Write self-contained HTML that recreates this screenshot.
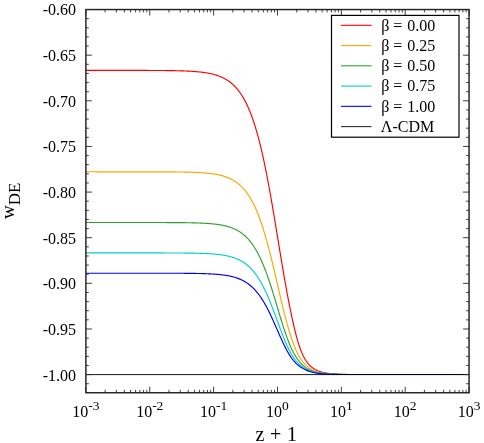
<!DOCTYPE html>
<html><head><meta charset="utf-8"><title>w_DE</title>
<style>
html,body{margin:0;padding:0;background:#fff;}
body{width:484px;height:443px;overflow:hidden;}
svg{display:block;will-change:transform;}
text{font-family:"Liberation Serif",serif;fill:#000;}
</style></head><body>
<svg width="484" height="443" viewBox="0 0 484 443">
<rect x="0" y="0" width="484" height="443" fill="#fff"/>

<clipPath id="c"><rect x="85.9" y="9.55" width="383.15" height="365.55"/></clipPath>
<g clip-path="url(#c)" fill="none" stroke-width="1.15" stroke-linejoin="round">
<polyline stroke="#ff0000" points="85.90,70.39 86.54,70.39 87.18,70.39 87.82,70.39 88.45,70.39 89.09,70.39 89.73,70.39 90.37,70.39 91.01,70.39 91.65,70.39 92.29,70.39 92.92,70.39 93.56,70.39 94.20,70.39 94.84,70.39 95.48,70.39 96.12,70.39 96.76,70.39 97.39,70.39 98.03,70.39 98.67,70.39 99.31,70.39 99.95,70.39 100.59,70.39 101.23,70.39 101.86,70.39 102.50,70.39 103.14,70.39 103.78,70.39 104.42,70.39 105.06,70.39 105.70,70.39 106.33,70.39 106.97,70.39 107.61,70.40 108.25,70.40 108.89,70.40 109.53,70.40 110.17,70.40 110.80,70.40 111.44,70.40 112.08,70.40 112.72,70.40 113.36,70.40 114.00,70.40 114.64,70.40 115.27,70.40 115.91,70.40 116.55,70.40 117.19,70.40 117.83,70.40 118.47,70.40 119.11,70.40 119.74,70.40 120.38,70.40 121.02,70.40 121.66,70.40 122.30,70.40 122.94,70.40 123.58,70.40 124.22,70.40 124.85,70.40 125.49,70.40 126.13,70.40 126.77,70.40 127.41,70.40 128.05,70.40 128.69,70.41 129.32,70.41 129.96,70.41 130.60,70.41 131.24,70.41 131.88,70.41 132.52,70.41 133.16,70.41 133.79,70.41 134.43,70.41 135.07,70.41 135.71,70.41 136.35,70.41 136.99,70.42 137.63,70.42 138.26,70.42 138.90,70.42 139.54,70.42 140.18,70.42 140.82,70.42 141.46,70.42 142.10,70.43 142.73,70.43 143.37,70.43 144.01,70.43 144.65,70.43 145.29,70.43 145.93,70.44 146.57,70.44 147.20,70.44 147.84,70.44 148.48,70.44 149.12,70.45 149.76,70.45 150.40,70.45 151.04,70.45 151.67,70.46 152.31,70.46 152.95,70.46 153.59,70.46 154.23,70.47 154.87,70.47 155.51,70.47 156.14,70.48 156.78,70.48 157.42,70.49 158.06,70.49 158.70,70.49 159.34,70.50 159.98,70.50 160.61,70.51 161.25,70.51 161.89,70.52 162.53,70.52 163.17,70.53 163.81,70.54 164.45,70.54 165.08,70.55 165.72,70.56 166.36,70.56 167.00,70.57 167.64,70.58 168.28,70.59 168.92,70.60 169.55,70.60 170.19,70.61 170.83,70.62 171.47,70.63 172.11,70.64 172.75,70.65 173.39,70.67 174.02,70.68 174.66,70.69 175.30,70.70 175.94,70.72 176.58,70.73 177.22,70.75 177.86,70.76 178.49,70.78 179.13,70.79 179.77,70.81 180.41,70.83 181.05,70.85 181.69,70.87 182.33,70.89 182.96,70.91 183.60,70.93 184.24,70.96 184.88,70.98 185.52,71.01 186.16,71.04 186.80,71.06 187.43,71.09 188.07,71.12 188.71,71.15 189.35,71.19 189.99,71.22 190.63,71.26 191.27,71.30 191.90,71.34 192.54,71.38 193.18,71.42 193.82,71.46 194.46,71.51 195.10,71.56 195.74,71.61 196.37,71.66 197.01,71.72 197.65,71.78 198.29,71.84 198.93,71.90 199.57,71.96 200.21,72.03 200.84,72.10 201.48,72.18 202.12,72.26 202.76,72.34 203.40,72.42 204.04,72.51 204.68,72.60 205.32,72.70 205.95,72.80 206.59,72.90 207.23,73.01 207.87,73.12 208.51,73.24 209.15,73.36 209.79,73.49 210.42,73.63 211.06,73.77 211.70,73.91 212.34,74.06 212.98,74.22 213.62,74.39 214.26,74.56 214.89,74.74 215.53,74.93 216.17,75.12 216.81,75.33 217.45,75.54 218.09,75.76 218.73,75.99 219.36,76.23 220.00,76.48 220.64,76.74 221.28,77.02 221.92,77.30 222.56,77.60 223.20,77.91 223.83,78.23 224.47,78.56 225.11,78.91 225.75,79.27 226.39,79.65 227.03,80.05 227.67,80.46 228.30,80.89 228.94,81.33 229.58,81.79 230.22,82.28 230.86,82.78 231.50,83.30 232.14,83.85 232.77,84.42 233.41,85.00 234.05,85.62 234.69,86.26 235.33,86.92 235.97,87.61 236.61,88.33 237.24,89.08 237.88,89.85 238.52,90.66 239.16,91.50 239.80,92.37 240.44,93.28 241.08,94.22 241.71,95.20 242.35,96.21 242.99,97.26 243.63,98.36 244.27,99.49 244.91,100.67 245.55,101.89 246.18,103.15 246.82,104.46 247.46,105.82 248.10,107.23 248.74,108.69 249.38,110.20 250.02,111.76 250.65,113.38 251.29,115.05 251.93,116.78 252.57,118.56 253.21,120.41 253.85,122.31 254.49,124.28 255.12,126.31 255.76,128.40 256.40,130.56 257.04,132.78 257.68,135.07 258.32,137.42 258.96,139.84 259.59,142.33 260.23,144.89 260.87,147.52 261.51,150.21 262.15,152.98 262.79,155.81 263.43,158.71 264.06,161.68 264.70,164.72 265.34,167.82 265.98,170.98 266.62,174.21 267.26,177.51 267.90,180.86 268.53,184.27 269.17,187.74 269.81,191.26 270.45,194.83 271.09,198.45 271.73,202.12 272.37,205.83 273.00,209.57 273.64,213.35 274.28,217.16 274.92,221.00 275.56,224.86 276.20,228.74 276.84,232.62 277.48,236.52 278.11,240.42 278.75,244.32 279.39,248.21 280.03,252.10 280.67,255.96 281.31,259.80 281.95,263.62 282.58,267.41 283.22,271.16 283.86,274.88 284.50,278.55 285.14,282.18 285.78,285.76 286.42,289.28 287.05,292.75 287.69,296.17 288.33,299.53 288.97,302.83 289.61,306.06 290.25,309.24 290.89,312.35 291.52,315.40 292.16,318.37 292.80,321.28 293.44,324.12 294.08,326.88 294.72,329.55 295.36,332.15 295.99,334.65 296.63,337.06 297.27,339.36 297.91,341.57 298.55,343.67 299.19,345.66 299.83,347.54 300.46,349.32 301.10,350.99 301.74,352.56 302.38,354.03 303.02,355.40 303.66,356.69 304.30,357.89 304.93,359.01 305.57,360.05 306.21,361.03 306.85,361.93 307.49,362.78 308.13,363.57 308.77,364.31 309.40,365.00 310.04,365.64 310.68,366.24 311.32,366.79 311.96,367.31 312.60,367.80 313.24,368.25 313.87,368.68 314.51,369.07 315.15,369.44 315.79,369.78 316.43,370.11 317.07,370.41 317.71,370.68 318.34,370.95 318.98,371.19 319.62,371.42 320.26,371.63 320.90,371.83 321.54,372.01 322.18,372.18 322.81,372.35 323.45,372.50 324.09,372.64 324.73,372.77 325.37,372.89 326.01,373.00 326.65,373.11 327.28,373.21 327.92,373.30 328.56,373.39 329.20,373.47 329.84,373.55 330.48,373.62 331.12,373.68 331.75,373.74 332.39,373.80 333.03,373.85 333.67,373.90 334.31,373.95 334.95,373.99 335.59,374.03 336.22,374.07 336.86,374.11 337.50,374.14 338.14,374.17 338.78,374.20 339.42,374.23 340.06,374.25 340.69,374.27 341.33,374.30 341.97,374.32 342.61,374.34 343.25,374.35 343.89,374.37 344.53,374.38 345.16,374.40 345.80,374.41 346.44,374.42 347.08,374.44 347.72,374.45 348.36,374.46 349.00,374.47 349.63,374.48 350.27,374.48 350.91,374.49 351.55,374.50 352.19,374.51 352.83,374.51 353.47,374.52 354.11,374.52 354.74,374.53 355.38,374.53 356.02,374.54 356.66,374.54 357.30,374.55 357.94,374.55 358.58,374.55 359.21,374.56 359.85,374.56 360.49,374.56 361.13,374.56 361.77,374.57 362.41,374.57 363.05,374.57 363.68,374.57 364.32,374.57 364.96,374.58 365.60,374.58 366.24,374.58 366.88,374.58 367.52,374.58 368.15,374.58 368.79,374.58 369.43,374.59 370.07,374.59 370.71,374.59 371.35,374.59 371.99,374.59 372.62,374.59 373.26,374.59 373.90,374.59 374.54,374.59 375.18,374.59 375.82,374.59 376.46,374.59 377.09,374.59 377.73,374.59 378.37,374.59 379.01,374.59 379.65,374.60 380.29,374.60 380.93,374.60 381.56,374.60 382.20,374.60 382.84,374.60 383.48,374.60 384.12,374.60 384.76,374.60 385.40,374.60 386.03,374.60 386.67,374.60 387.31,374.60 387.95,374.60 388.59,374.60 389.23,374.60 389.87,374.60 390.50,374.60 391.14,374.60 391.78,374.60 392.42,374.60 393.06,374.60 393.70,374.60 394.34,374.60 394.97,374.60 395.61,374.60 396.25,374.60 396.89,374.60 397.53,374.60 398.17,374.60 398.81,374.60 399.44,374.60 400.08,374.60 400.72,374.60 401.36,374.60 402.00,374.60 402.64,374.60 403.28,374.60 403.91,374.60 404.55,374.60 405.19,374.60 405.83,374.60 406.47,374.60 407.11,374.60 407.75,374.60 408.38,374.60 409.02,374.60 409.66,374.60 410.30,374.60 410.94,374.60 411.58,374.60 412.22,374.60 412.85,374.60 413.49,374.60 414.13,374.60 414.77,374.60 415.41,374.60 416.05,374.60 416.69,374.60 417.32,374.60 417.96,374.60 418.60,374.60 419.24,374.60 419.88,374.60 420.52,374.60 421.16,374.60 421.79,374.60 422.43,374.60 423.07,374.60 423.71,374.60 424.35,374.60 424.99,374.60 425.63,374.60 426.26,374.60 426.90,374.60 427.54,374.60 428.18,374.60 428.82,374.60 429.46,374.60 430.10,374.60 430.74,374.60 431.37,374.60 432.01,374.60 432.65,374.60 433.29,374.60 433.93,374.60 434.57,374.60 435.21,374.60 435.84,374.60 436.48,374.60 437.12,374.60 437.76,374.60 438.40,374.60 439.04,374.60 439.68,374.60 440.31,374.60 440.95,374.60 441.59,374.60 442.23,374.60 442.87,374.60 443.51,374.60 444.15,374.60 444.78,374.60 445.42,374.60 446.06,374.60 446.70,374.60 447.34,374.60 447.98,374.60 448.62,374.60 449.25,374.60 449.89,374.60 450.53,374.60 451.17,374.60 451.81,374.60 452.45,374.60 453.09,374.60 453.72,374.60 454.36,374.60 455.00,374.60 455.64,374.60 456.28,374.60 456.92,374.60 457.56,374.60 458.19,374.60 458.83,374.60 459.47,374.60 460.11,374.60 460.75,374.60 461.39,374.60 462.03,374.60 462.66,374.60 463.30,374.60 463.94,374.60 464.58,374.60 465.22,374.60 465.86,374.60 466.50,374.60 467.13,374.60 467.77,374.60 468.41,374.60 469.05,374.60"/>
<polyline stroke="#ffa500" points="85.90,171.79 86.54,171.79 87.18,171.79 87.82,171.79 88.45,171.79 89.09,171.79 89.73,171.79 90.37,171.79 91.01,171.79 91.65,171.79 92.29,171.79 92.92,171.79 93.56,171.79 94.20,171.79 94.84,171.79 95.48,171.79 96.12,171.80 96.76,171.80 97.39,171.80 98.03,171.80 98.67,171.80 99.31,171.80 99.95,171.80 100.59,171.80 101.23,171.80 101.86,171.80 102.50,171.80 103.14,171.80 103.78,171.80 104.42,171.80 105.06,171.80 105.70,171.80 106.33,171.80 106.97,171.80 107.61,171.80 108.25,171.80 108.89,171.80 109.53,171.80 110.17,171.80 110.80,171.80 111.44,171.80 112.08,171.80 112.72,171.80 113.36,171.80 114.00,171.80 114.64,171.80 115.27,171.80 115.91,171.80 116.55,171.80 117.19,171.80 117.83,171.80 118.47,171.80 119.11,171.80 119.74,171.80 120.38,171.80 121.02,171.80 121.66,171.80 122.30,171.80 122.94,171.80 123.58,171.80 124.22,171.80 124.85,171.80 125.49,171.80 126.13,171.80 126.77,171.80 127.41,171.80 128.05,171.80 128.69,171.80 129.32,171.80 129.96,171.80 130.60,171.80 131.24,171.80 131.88,171.80 132.52,171.80 133.16,171.80 133.79,171.80 134.43,171.80 135.07,171.80 135.71,171.80 136.35,171.80 136.99,171.80 137.63,171.81 138.26,171.81 138.90,171.81 139.54,171.81 140.18,171.81 140.82,171.81 141.46,171.81 142.10,171.81 142.73,171.81 143.37,171.81 144.01,171.81 144.65,171.81 145.29,171.81 145.93,171.81 146.57,171.81 147.20,171.82 147.84,171.82 148.48,171.82 149.12,171.82 149.76,171.82 150.40,171.82 151.04,171.82 151.67,171.82 152.31,171.82 152.95,171.83 153.59,171.83 154.23,171.83 154.87,171.83 155.51,171.83 156.14,171.83 156.78,171.84 157.42,171.84 158.06,171.84 158.70,171.84 159.34,171.84 159.98,171.85 160.61,171.85 161.25,171.85 161.89,171.85 162.53,171.86 163.17,171.86 163.81,171.86 164.45,171.86 165.08,171.87 165.72,171.87 166.36,171.87 167.00,171.88 167.64,171.88 168.28,171.89 168.92,171.89 169.55,171.89 170.19,171.90 170.83,171.90 171.47,171.91 172.11,171.91 172.75,171.92 173.39,171.92 174.02,171.93 174.66,171.94 175.30,171.94 175.94,171.95 176.58,171.96 177.22,171.96 177.86,171.97 178.49,171.98 179.13,171.99 179.77,172.00 180.41,172.01 181.05,172.02 181.69,172.03 182.33,172.04 182.96,172.05 183.60,172.06 184.24,172.07 184.88,172.09 185.52,172.10 186.16,172.11 186.80,172.13 187.43,172.14 188.07,172.16 188.71,172.18 189.35,172.19 189.99,172.21 190.63,172.23 191.27,172.25 191.90,172.27 192.54,172.29 193.18,172.32 193.82,172.34 194.46,172.37 195.10,172.39 195.74,172.42 196.37,172.45 197.01,172.48 197.65,172.51 198.29,172.54 198.93,172.58 199.57,172.61 200.21,172.65 200.84,172.69 201.48,172.73 202.12,172.77 202.76,172.82 203.40,172.86 204.04,172.91 204.68,172.96 205.32,173.02 205.95,173.07 206.59,173.13 207.23,173.19 207.87,173.26 208.51,173.32 209.15,173.39 209.79,173.46 210.42,173.54 211.06,173.62 211.70,173.70 212.34,173.79 212.98,173.88 213.62,173.98 214.26,174.08 214.89,174.18 215.53,174.29 216.17,174.40 216.81,174.52 217.45,174.64 218.09,174.77 218.73,174.91 219.36,175.05 220.00,175.20 220.64,175.35 221.28,175.51 221.92,175.68 222.56,175.86 223.20,176.04 223.83,176.23 224.47,176.43 225.11,176.64 225.75,176.86 226.39,177.09 227.03,177.33 227.67,177.58 228.30,177.84 228.94,178.11 229.58,178.39 230.22,178.68 230.86,178.99 231.50,179.31 232.14,179.65 232.77,180.00 233.41,180.37 234.05,180.75 234.69,181.14 235.33,181.56 235.97,181.99 236.61,182.44 237.24,182.91 237.88,183.40 238.52,183.91 239.16,184.44 239.80,184.99 240.44,185.57 241.08,186.17 241.71,186.80 242.35,187.45 242.99,188.12 243.63,188.83 244.27,189.56 244.91,190.32 245.55,191.12 246.18,191.94 246.82,192.80 247.46,193.68 248.10,194.61 248.74,195.57 249.38,196.56 250.02,197.60 250.65,198.67 251.29,199.78 251.93,200.93 252.57,202.12 253.21,203.36 253.85,204.63 254.49,205.96 255.12,207.33 255.76,208.74 256.40,210.20 257.04,211.71 257.68,213.27 258.32,214.87 258.96,216.53 259.59,218.24 260.23,219.99 260.87,221.80 261.51,223.66 262.15,225.57 262.79,227.54 263.43,229.55 264.06,231.61 264.70,233.73 265.34,235.89 265.98,238.11 266.62,240.37 267.26,242.68 267.90,245.03 268.53,247.43 269.17,249.88 269.81,252.36 270.45,254.88 271.09,257.44 271.73,260.04 272.37,262.66 273.00,265.32 273.64,268.00 274.28,270.70 274.92,273.42 275.56,276.16 276.20,278.91 276.84,281.67 277.48,284.43 278.11,287.20 278.75,289.96 279.39,292.71 280.03,295.45 280.67,298.17 281.31,300.88 281.95,303.56 282.58,306.21 283.22,308.83 283.86,311.41 284.50,313.95 285.14,316.45 285.78,318.90 286.42,321.30 287.05,323.65 287.69,325.94 288.33,328.18 288.97,330.35 289.61,332.46 290.25,334.51 290.89,336.50 291.52,338.42 292.16,340.27 292.80,342.05 293.44,343.77 294.08,345.43 294.72,347.02 295.36,348.54 295.99,350.00 296.63,351.39 297.27,352.72 297.91,353.99 298.55,355.20 299.19,356.35 299.83,357.44 300.46,358.48 301.10,359.46 301.74,360.39 302.38,361.27 303.02,362.10 303.66,362.88 304.30,363.62 304.93,364.31 305.57,364.97 306.21,365.58 306.85,366.16 307.49,366.71 308.13,367.22 308.77,367.70 309.40,368.15 310.04,368.57 310.68,368.96 311.32,369.33 311.96,369.68 312.60,370.00 313.24,370.30 313.87,370.59 314.51,370.85 315.15,371.10 315.79,371.33 316.43,371.55 317.07,371.75 317.71,371.94 318.34,372.12 318.98,372.28 319.62,372.44 320.26,372.58 320.90,372.71 321.54,372.84 322.18,372.96 322.81,373.07 323.45,373.17 324.09,373.26 324.73,373.35 325.37,373.44 326.01,373.51 326.65,373.59 327.28,373.65 327.92,373.72 328.56,373.78 329.20,373.83 329.84,373.88 330.48,373.93 331.12,373.97 331.75,374.02 332.39,374.06 333.03,374.09 333.67,374.13 334.31,374.16 334.95,374.19 335.59,374.21 336.22,374.24 336.86,374.26 337.50,374.29 338.14,374.31 338.78,374.33 339.42,374.35 340.06,374.36 340.69,374.38 341.33,374.39 341.97,374.41 342.61,374.42 343.25,374.43 343.89,374.44 344.53,374.45 345.16,374.46 345.80,374.47 346.44,374.48 347.08,374.49 347.72,374.50 348.36,374.50 349.00,374.51 349.63,374.52 350.27,374.52 350.91,374.53 351.55,374.53 352.19,374.54 352.83,374.54 353.47,374.54 354.11,374.55 354.74,374.55 355.38,374.55 356.02,374.56 356.66,374.56 357.30,374.56 357.94,374.57 358.58,374.57 359.21,374.57 359.85,374.57 360.49,374.57 361.13,374.58 361.77,374.58 362.41,374.58 363.05,374.58 363.68,374.58 364.32,374.58 364.96,374.58 365.60,374.58 366.24,374.59 366.88,374.59 367.52,374.59 368.15,374.59 368.79,374.59 369.43,374.59 370.07,374.59 370.71,374.59 371.35,374.59 371.99,374.59 372.62,374.59 373.26,374.59 373.90,374.59 374.54,374.59 375.18,374.59 375.82,374.60 376.46,374.60 377.09,374.60 377.73,374.60 378.37,374.60 379.01,374.60 379.65,374.60 380.29,374.60 380.93,374.60 381.56,374.60 382.20,374.60 382.84,374.60 383.48,374.60 384.12,374.60 384.76,374.60 385.40,374.60 386.03,374.60 386.67,374.60 387.31,374.60 387.95,374.60 388.59,374.60 389.23,374.60 389.87,374.60 390.50,374.60 391.14,374.60 391.78,374.60 392.42,374.60 393.06,374.60 393.70,374.60 394.34,374.60 394.97,374.60 395.61,374.60 396.25,374.60 396.89,374.60 397.53,374.60 398.17,374.60 398.81,374.60 399.44,374.60 400.08,374.60 400.72,374.60 401.36,374.60 402.00,374.60 402.64,374.60 403.28,374.60 403.91,374.60 404.55,374.60 405.19,374.60 405.83,374.60 406.47,374.60 407.11,374.60 407.75,374.60 408.38,374.60 409.02,374.60 409.66,374.60 410.30,374.60 410.94,374.60 411.58,374.60 412.22,374.60 412.85,374.60 413.49,374.60 414.13,374.60 414.77,374.60 415.41,374.60 416.05,374.60 416.69,374.60 417.32,374.60 417.96,374.60 418.60,374.60 419.24,374.60 419.88,374.60 420.52,374.60 421.16,374.60 421.79,374.60 422.43,374.60 423.07,374.60 423.71,374.60 424.35,374.60 424.99,374.60 425.63,374.60 426.26,374.60 426.90,374.60 427.54,374.60 428.18,374.60 428.82,374.60 429.46,374.60 430.10,374.60 430.74,374.60 431.37,374.60 432.01,374.60 432.65,374.60 433.29,374.60 433.93,374.60 434.57,374.60 435.21,374.60 435.84,374.60 436.48,374.60 437.12,374.60 437.76,374.60 438.40,374.60 439.04,374.60 439.68,374.60 440.31,374.60 440.95,374.60 441.59,374.60 442.23,374.60 442.87,374.60 443.51,374.60 444.15,374.60 444.78,374.60 445.42,374.60 446.06,374.60 446.70,374.60 447.34,374.60 447.98,374.60 448.62,374.60 449.25,374.60 449.89,374.60 450.53,374.60 451.17,374.60 451.81,374.60 452.45,374.60 453.09,374.60 453.72,374.60 454.36,374.60 455.00,374.60 455.64,374.60 456.28,374.60 456.92,374.60 457.56,374.60 458.19,374.60 458.83,374.60 459.47,374.60 460.11,374.60 460.75,374.60 461.39,374.60 462.03,374.60 462.66,374.60 463.30,374.60 463.94,374.60 464.58,374.60 465.22,374.60 465.86,374.60 466.50,374.60 467.13,374.60 467.77,374.60 468.41,374.60 469.05,374.60"/>
<polyline stroke="#33a033" points="85.90,222.50 86.54,222.50 87.18,222.50 87.82,222.50 88.45,222.50 89.09,222.50 89.73,222.50 90.37,222.50 91.01,222.50 91.65,222.50 92.29,222.50 92.92,222.50 93.56,222.50 94.20,222.50 94.84,222.50 95.48,222.50 96.12,222.50 96.76,222.50 97.39,222.50 98.03,222.50 98.67,222.50 99.31,222.50 99.95,222.50 100.59,222.50 101.23,222.50 101.86,222.50 102.50,222.50 103.14,222.50 103.78,222.50 104.42,222.50 105.06,222.50 105.70,222.50 106.33,222.50 106.97,222.50 107.61,222.50 108.25,222.50 108.89,222.50 109.53,222.50 110.17,222.50 110.80,222.50 111.44,222.50 112.08,222.50 112.72,222.50 113.36,222.50 114.00,222.50 114.64,222.50 115.27,222.50 115.91,222.50 116.55,222.50 117.19,222.50 117.83,222.50 118.47,222.50 119.11,222.50 119.74,222.50 120.38,222.50 121.02,222.50 121.66,222.50 122.30,222.50 122.94,222.50 123.58,222.50 124.22,222.50 124.85,222.50 125.49,222.50 126.13,222.50 126.77,222.50 127.41,222.50 128.05,222.50 128.69,222.50 129.32,222.50 129.96,222.50 130.60,222.50 131.24,222.50 131.88,222.50 132.52,222.50 133.16,222.50 133.79,222.50 134.43,222.50 135.07,222.50 135.71,222.50 136.35,222.50 136.99,222.50 137.63,222.50 138.26,222.50 138.90,222.50 139.54,222.50 140.18,222.50 140.82,222.50 141.46,222.50 142.10,222.50 142.73,222.50 143.37,222.51 144.01,222.51 144.65,222.51 145.29,222.51 145.93,222.51 146.57,222.51 147.20,222.51 147.84,222.51 148.48,222.51 149.12,222.51 149.76,222.51 150.40,222.51 151.04,222.51 151.67,222.51 152.31,222.51 152.95,222.51 153.59,222.52 154.23,222.52 154.87,222.52 155.51,222.52 156.14,222.52 156.78,222.52 157.42,222.52 158.06,222.52 158.70,222.52 159.34,222.53 159.98,222.53 160.61,222.53 161.25,222.53 161.89,222.53 162.53,222.53 163.17,222.54 163.81,222.54 164.45,222.54 165.08,222.54 165.72,222.54 166.36,222.55 167.00,222.55 167.64,222.55 168.28,222.55 168.92,222.56 169.55,222.56 170.19,222.56 170.83,222.56 171.47,222.57 172.11,222.57 172.75,222.57 173.39,222.58 174.02,222.58 174.66,222.59 175.30,222.59 175.94,222.59 176.58,222.60 177.22,222.60 177.86,222.61 178.49,222.61 179.13,222.62 179.77,222.63 180.41,222.63 181.05,222.64 181.69,222.65 182.33,222.65 182.96,222.66 183.60,222.67 184.24,222.68 184.88,222.68 185.52,222.69 186.16,222.70 186.80,222.71 187.43,222.72 188.07,222.73 188.71,222.74 189.35,222.76 189.99,222.77 190.63,222.78 191.27,222.79 191.90,222.81 192.54,222.82 193.18,222.84 193.82,222.85 194.46,222.87 195.10,222.89 195.74,222.91 196.37,222.93 197.01,222.95 197.65,222.97 198.29,222.99 198.93,223.01 199.57,223.04 200.21,223.06 200.84,223.09 201.48,223.12 202.12,223.15 202.76,223.18 203.40,223.21 204.04,223.24 204.68,223.28 205.32,223.31 205.95,223.35 206.59,223.39 207.23,223.43 207.87,223.48 208.51,223.52 209.15,223.57 209.79,223.62 210.42,223.67 211.06,223.73 211.70,223.79 212.34,223.85 212.98,223.91 213.62,223.97 214.26,224.04 214.89,224.12 215.53,224.19 216.17,224.27 216.81,224.35 217.45,224.44 218.09,224.53 218.73,224.63 219.36,224.73 220.00,224.83 220.64,224.94 221.28,225.05 221.92,225.17 222.56,225.29 223.20,225.42 223.83,225.56 224.47,225.70 225.11,225.85 225.75,226.00 226.39,226.17 227.03,226.34 227.67,226.51 228.30,226.70 228.94,226.89 229.58,227.10 230.22,227.31 230.86,227.53 231.50,227.76 232.14,228.00 232.77,228.25 233.41,228.52 234.05,228.79 234.69,229.08 235.33,229.38 235.97,229.69 236.61,230.02 237.24,230.36 237.88,230.71 238.52,231.09 239.16,231.47 239.80,231.88 240.44,232.30 241.08,232.74 241.71,233.20 242.35,233.67 242.99,234.17 243.63,234.69 244.27,235.23 244.91,235.79 245.55,236.38 246.18,236.98 246.82,237.62 247.46,238.28 248.10,238.96 248.74,239.67 249.38,240.42 250.02,241.18 250.65,241.98 251.29,242.81 251.93,243.67 252.57,244.57 253.21,245.49 253.85,246.45 254.49,247.45 255.12,248.47 255.76,249.54 256.40,250.64 257.04,251.78 257.68,252.96 258.32,254.18 258.96,255.43 259.59,256.73 260.23,258.06 260.87,259.44 261.51,260.85 262.15,262.31 262.79,263.80 263.43,265.34 264.06,266.92 264.70,268.54 265.34,270.19 265.98,271.89 266.62,273.63 267.26,275.40 267.90,277.21 268.53,279.06 269.17,280.94 269.81,282.85 270.45,284.79 271.09,286.77 271.73,288.77 272.37,290.79 273.00,292.84 273.64,294.91 274.28,297.00 274.92,299.10 275.56,301.22 276.20,303.34 276.84,305.47 277.48,307.61 278.11,309.74 278.75,311.87 279.39,314.00 280.03,316.11 280.67,318.21 281.31,320.29 281.95,322.35 282.58,324.38 283.22,326.39 283.86,328.36 284.50,330.30 285.14,332.21 285.78,334.07 286.42,335.89 287.05,337.66 287.69,339.39 288.33,341.06 288.97,342.69 289.61,344.25 290.25,345.77 290.89,347.23 291.52,348.63 292.16,349.97 292.80,351.26 293.44,352.49 294.08,353.67 294.72,354.79 295.36,355.86 295.99,356.88 296.63,357.85 297.27,358.78 297.91,359.66 298.55,360.50 299.19,361.30 299.83,362.06 300.46,362.78 301.10,363.47 301.74,364.13 302.38,364.75 303.02,365.34 303.66,365.90 304.30,366.43 304.93,366.93 305.57,367.41 306.21,367.86 306.85,368.28 307.49,368.68 308.13,369.05 308.77,369.41 309.40,369.74 310.04,370.05 310.68,370.35 311.32,370.62 311.96,370.88 312.60,371.13 313.24,371.35 313.87,371.57 314.51,371.77 315.15,371.95 315.79,372.13 316.43,372.29 317.07,372.44 317.71,372.59 318.34,372.72 318.98,372.84 319.62,372.96 320.26,373.07 320.90,373.17 321.54,373.27 322.18,373.35 322.81,373.44 323.45,373.52 324.09,373.59 324.73,373.65 325.37,373.72 326.01,373.78 326.65,373.83 327.28,373.88 327.92,373.93 328.56,373.98 329.20,374.02 329.84,374.06 330.48,374.09 331.12,374.13 331.75,374.16 332.39,374.19 333.03,374.21 333.67,374.24 334.31,374.26 334.95,374.29 335.59,374.31 336.22,374.33 336.86,374.35 337.50,374.36 338.14,374.38 338.78,374.39 339.42,374.41 340.06,374.42 340.69,374.43 341.33,374.44 341.97,374.45 342.61,374.46 343.25,374.47 343.89,374.48 344.53,374.49 345.16,374.50 345.80,374.50 346.44,374.51 347.08,374.52 347.72,374.52 348.36,374.53 349.00,374.53 349.63,374.54 350.27,374.54 350.91,374.54 351.55,374.55 352.19,374.55 352.83,374.55 353.47,374.56 354.11,374.56 354.74,374.56 355.38,374.57 356.02,374.57 356.66,374.57 357.30,374.57 357.94,374.57 358.58,374.58 359.21,374.58 359.85,374.58 360.49,374.58 361.13,374.58 361.77,374.58 362.41,374.58 363.05,374.59 363.68,374.59 364.32,374.59 364.96,374.59 365.60,374.59 366.24,374.59 366.88,374.59 367.52,374.59 368.15,374.59 368.79,374.59 369.43,374.59 370.07,374.59 370.71,374.59 371.35,374.59 371.99,374.59 372.62,374.59 373.26,374.60 373.90,374.60 374.54,374.60 375.18,374.60 375.82,374.60 376.46,374.60 377.09,374.60 377.73,374.60 378.37,374.60 379.01,374.60 379.65,374.60 380.29,374.60 380.93,374.60 381.56,374.60 382.20,374.60 382.84,374.60 383.48,374.60 384.12,374.60 384.76,374.60 385.40,374.60 386.03,374.60 386.67,374.60 387.31,374.60 387.95,374.60 388.59,374.60 389.23,374.60 389.87,374.60 390.50,374.60 391.14,374.60 391.78,374.60 392.42,374.60 393.06,374.60 393.70,374.60 394.34,374.60 394.97,374.60 395.61,374.60 396.25,374.60 396.89,374.60 397.53,374.60 398.17,374.60 398.81,374.60 399.44,374.60 400.08,374.60 400.72,374.60 401.36,374.60 402.00,374.60 402.64,374.60 403.28,374.60 403.91,374.60 404.55,374.60 405.19,374.60 405.83,374.60 406.47,374.60 407.11,374.60 407.75,374.60 408.38,374.60 409.02,374.60 409.66,374.60 410.30,374.60 410.94,374.60 411.58,374.60 412.22,374.60 412.85,374.60 413.49,374.60 414.13,374.60 414.77,374.60 415.41,374.60 416.05,374.60 416.69,374.60 417.32,374.60 417.96,374.60 418.60,374.60 419.24,374.60 419.88,374.60 420.52,374.60 421.16,374.60 421.79,374.60 422.43,374.60 423.07,374.60 423.71,374.60 424.35,374.60 424.99,374.60 425.63,374.60 426.26,374.60 426.90,374.60 427.54,374.60 428.18,374.60 428.82,374.60 429.46,374.60 430.10,374.60 430.74,374.60 431.37,374.60 432.01,374.60 432.65,374.60 433.29,374.60 433.93,374.60 434.57,374.60 435.21,374.60 435.84,374.60 436.48,374.60 437.12,374.60 437.76,374.60 438.40,374.60 439.04,374.60 439.68,374.60 440.31,374.60 440.95,374.60 441.59,374.60 442.23,374.60 442.87,374.60 443.51,374.60 444.15,374.60 444.78,374.60 445.42,374.60 446.06,374.60 446.70,374.60 447.34,374.60 447.98,374.60 448.62,374.60 449.25,374.60 449.89,374.60 450.53,374.60 451.17,374.60 451.81,374.60 452.45,374.60 453.09,374.60 453.72,374.60 454.36,374.60 455.00,374.60 455.64,374.60 456.28,374.60 456.92,374.60 457.56,374.60 458.19,374.60 458.83,374.60 459.47,374.60 460.11,374.60 460.75,374.60 461.39,374.60 462.03,374.60 462.66,374.60 463.30,374.60 463.94,374.60 464.58,374.60 465.22,374.60 465.86,374.60 466.50,374.60 467.13,374.60 467.77,374.60 468.41,374.60 469.05,374.60"/>
<polyline stroke="#00ced1" points="85.90,252.92 86.54,252.92 87.18,252.92 87.82,252.92 88.45,252.92 89.09,252.92 89.73,252.92 90.37,252.92 91.01,252.92 91.65,252.92 92.29,252.92 92.92,252.92 93.56,252.92 94.20,252.92 94.84,252.92 95.48,252.92 96.12,252.92 96.76,252.92 97.39,252.92 98.03,252.92 98.67,252.92 99.31,252.92 99.95,252.92 100.59,252.92 101.23,252.92 101.86,252.92 102.50,252.92 103.14,252.92 103.78,252.92 104.42,252.92 105.06,252.92 105.70,252.92 106.33,252.92 106.97,252.92 107.61,252.92 108.25,252.92 108.89,252.92 109.53,252.92 110.17,252.92 110.80,252.92 111.44,252.92 112.08,252.92 112.72,252.92 113.36,252.92 114.00,252.92 114.64,252.92 115.27,252.92 115.91,252.92 116.55,252.92 117.19,252.92 117.83,252.92 118.47,252.92 119.11,252.92 119.74,252.92 120.38,252.92 121.02,252.92 121.66,252.92 122.30,252.92 122.94,252.92 123.58,252.92 124.22,252.92 124.85,252.92 125.49,252.92 126.13,252.92 126.77,252.92 127.41,252.92 128.05,252.92 128.69,252.92 129.32,252.92 129.96,252.92 130.60,252.92 131.24,252.92 131.88,252.92 132.52,252.92 133.16,252.92 133.79,252.92 134.43,252.92 135.07,252.92 135.71,252.92 136.35,252.92 136.99,252.92 137.63,252.92 138.26,252.92 138.90,252.92 139.54,252.92 140.18,252.92 140.82,252.92 141.46,252.92 142.10,252.92 142.73,252.92 143.37,252.92 144.01,252.92 144.65,252.92 145.29,252.92 145.93,252.92 146.57,252.93 147.20,252.93 147.84,252.93 148.48,252.93 149.12,252.93 149.76,252.93 150.40,252.93 151.04,252.93 151.67,252.93 152.31,252.93 152.95,252.93 153.59,252.93 154.23,252.93 154.87,252.93 155.51,252.93 156.14,252.93 156.78,252.93 157.42,252.94 158.06,252.94 158.70,252.94 159.34,252.94 159.98,252.94 160.61,252.94 161.25,252.94 161.89,252.94 162.53,252.94 163.17,252.94 163.81,252.95 164.45,252.95 165.08,252.95 165.72,252.95 166.36,252.95 167.00,252.95 167.64,252.96 168.28,252.96 168.92,252.96 169.55,252.96 170.19,252.96 170.83,252.97 171.47,252.97 172.11,252.97 172.75,252.97 173.39,252.98 174.02,252.98 174.66,252.98 175.30,252.98 175.94,252.99 176.58,252.99 177.22,253.00 177.86,253.00 178.49,253.00 179.13,253.01 179.77,253.01 180.41,253.02 181.05,253.02 181.69,253.03 182.33,253.03 182.96,253.04 183.60,253.04 184.24,253.05 184.88,253.05 185.52,253.06 186.16,253.07 186.80,253.07 187.43,253.08 188.07,253.09 188.71,253.10 189.35,253.11 189.99,253.12 190.63,253.13 191.27,253.14 191.90,253.15 192.54,253.16 193.18,253.17 193.82,253.18 194.46,253.19 195.10,253.21 195.74,253.22 196.37,253.23 197.01,253.25 197.65,253.27 198.29,253.28 198.93,253.30 199.57,253.32 200.21,253.34 200.84,253.36 201.48,253.38 202.12,253.40 202.76,253.42 203.40,253.45 204.04,253.47 204.68,253.50 205.32,253.53 205.95,253.55 206.59,253.58 207.23,253.62 207.87,253.65 208.51,253.68 209.15,253.72 209.79,253.76 210.42,253.80 211.06,253.84 211.70,253.89 212.34,253.93 212.98,253.98 213.62,254.03 214.26,254.08 214.89,254.14 215.53,254.20 216.17,254.26 216.81,254.32 217.45,254.39 218.09,254.46 218.73,254.53 219.36,254.60 220.00,254.68 220.64,254.77 221.28,254.86 221.92,254.95 222.56,255.04 223.20,255.14 223.83,255.25 224.47,255.36 225.11,255.47 225.75,255.59 226.39,255.72 227.03,255.85 227.67,255.99 228.30,256.13 228.94,256.28 229.58,256.44 230.22,256.60 230.86,256.77 231.50,256.95 232.14,257.14 232.77,257.34 233.41,257.54 234.05,257.76 234.69,257.98 235.33,258.22 235.97,258.46 236.61,258.72 237.24,258.99 237.88,259.27 238.52,259.56 239.16,259.86 239.80,260.18 240.44,260.51 241.08,260.86 241.71,261.22 242.35,261.60 242.99,261.99 243.63,262.40 244.27,262.82 244.91,263.27 245.55,263.73 246.18,264.21 246.82,264.72 247.46,265.24 248.10,265.78 248.74,266.35 249.38,266.94 250.02,267.55 250.65,268.19 251.29,268.85 251.93,269.54 252.57,270.25 253.21,270.99 253.85,271.76 254.49,272.55 255.12,273.38 255.76,274.23 256.40,275.11 257.04,276.03 257.68,276.97 258.32,277.95 258.96,278.96 259.59,280.00 260.23,281.08 260.87,282.19 261.51,283.33 262.15,284.50 262.79,285.71 263.43,286.96 264.06,288.23 264.70,289.54 265.34,290.88 265.98,292.26 266.62,293.66 267.26,295.10 267.90,296.57 268.53,298.07 269.17,299.59 269.81,301.15 270.45,302.73 271.09,304.33 271.73,305.96 272.37,307.61 273.00,309.27 273.64,310.96 274.28,312.66 274.92,314.37 275.56,316.09 276.20,317.82 276.84,319.56 277.48,321.29 278.11,323.03 278.75,324.76 279.39,326.49 280.03,328.21 280.67,329.91 281.31,331.60 281.95,333.27 282.58,334.92 283.22,336.55 283.86,338.15 284.50,339.72 285.14,341.25 285.78,342.76 286.42,344.22 287.05,345.64 287.69,347.03 288.33,348.37 288.97,349.66 289.61,350.91 290.25,352.11 290.89,353.26 291.52,354.36 292.16,355.42 292.80,356.43 293.44,357.38 294.08,358.30 294.72,359.16 295.36,359.99 295.99,360.77 296.63,361.52 297.27,362.22 297.91,362.90 298.55,363.54 299.19,364.15 299.83,364.73 300.46,365.28 301.10,365.81 301.74,366.31 302.38,366.79 303.02,367.25 303.66,367.68 304.30,368.10 304.93,368.49 305.57,368.86 306.21,369.21 306.85,369.55 307.49,369.86 308.13,370.16 308.77,370.44 309.40,370.71 310.04,370.95 310.68,371.19 311.32,371.41 311.96,371.62 312.60,371.81 313.24,371.99 313.87,372.16 314.51,372.32 315.15,372.47 315.79,372.61 316.43,372.74 317.07,372.87 317.71,372.98 318.34,373.09 318.98,373.19 319.62,373.28 320.26,373.37 320.90,373.45 321.54,373.53 322.18,373.60 322.81,373.66 323.45,373.73 324.09,373.78 324.73,373.84 325.37,373.89 326.01,373.94 326.65,373.98 327.28,374.02 327.92,374.06 328.56,374.10 329.20,374.13 329.84,374.16 330.48,374.19 331.12,374.22 331.75,374.24 332.39,374.27 333.03,374.29 333.67,374.31 334.31,374.33 334.95,374.35 335.59,374.36 336.22,374.38 336.86,374.40 337.50,374.41 338.14,374.42 338.78,374.43 339.42,374.44 340.06,374.45 340.69,374.46 341.33,374.47 341.97,374.48 342.61,374.49 343.25,374.50 343.89,374.50 344.53,374.51 345.16,374.52 345.80,374.52 346.44,374.53 347.08,374.53 347.72,374.54 348.36,374.54 349.00,374.54 349.63,374.55 350.27,374.55 350.91,374.56 351.55,374.56 352.19,374.56 352.83,374.56 353.47,374.57 354.11,374.57 354.74,374.57 355.38,374.57 356.02,374.57 356.66,374.58 357.30,374.58 357.94,374.58 358.58,374.58 359.21,374.58 359.85,374.58 360.49,374.58 361.13,374.59 361.77,374.59 362.41,374.59 363.05,374.59 363.68,374.59 364.32,374.59 364.96,374.59 365.60,374.59 366.24,374.59 366.88,374.59 367.52,374.59 368.15,374.59 368.79,374.59 369.43,374.59 370.07,374.59 370.71,374.59 371.35,374.60 371.99,374.60 372.62,374.60 373.26,374.60 373.90,374.60 374.54,374.60 375.18,374.60 375.82,374.60 376.46,374.60 377.09,374.60 377.73,374.60 378.37,374.60 379.01,374.60 379.65,374.60 380.29,374.60 380.93,374.60 381.56,374.60 382.20,374.60 382.84,374.60 383.48,374.60 384.12,374.60 384.76,374.60 385.40,374.60 386.03,374.60 386.67,374.60 387.31,374.60 387.95,374.60 388.59,374.60 389.23,374.60 389.87,374.60 390.50,374.60 391.14,374.60 391.78,374.60 392.42,374.60 393.06,374.60 393.70,374.60 394.34,374.60 394.97,374.60 395.61,374.60 396.25,374.60 396.89,374.60 397.53,374.60 398.17,374.60 398.81,374.60 399.44,374.60 400.08,374.60 400.72,374.60 401.36,374.60 402.00,374.60 402.64,374.60 403.28,374.60 403.91,374.60 404.55,374.60 405.19,374.60 405.83,374.60 406.47,374.60 407.11,374.60 407.75,374.60 408.38,374.60 409.02,374.60 409.66,374.60 410.30,374.60 410.94,374.60 411.58,374.60 412.22,374.60 412.85,374.60 413.49,374.60 414.13,374.60 414.77,374.60 415.41,374.60 416.05,374.60 416.69,374.60 417.32,374.60 417.96,374.60 418.60,374.60 419.24,374.60 419.88,374.60 420.52,374.60 421.16,374.60 421.79,374.60 422.43,374.60 423.07,374.60 423.71,374.60 424.35,374.60 424.99,374.60 425.63,374.60 426.26,374.60 426.90,374.60 427.54,374.60 428.18,374.60 428.82,374.60 429.46,374.60 430.10,374.60 430.74,374.60 431.37,374.60 432.01,374.60 432.65,374.60 433.29,374.60 433.93,374.60 434.57,374.60 435.21,374.60 435.84,374.60 436.48,374.60 437.12,374.60 437.76,374.60 438.40,374.60 439.04,374.60 439.68,374.60 440.31,374.60 440.95,374.60 441.59,374.60 442.23,374.60 442.87,374.60 443.51,374.60 444.15,374.60 444.78,374.60 445.42,374.60 446.06,374.60 446.70,374.60 447.34,374.60 447.98,374.60 448.62,374.60 449.25,374.60 449.89,374.60 450.53,374.60 451.17,374.60 451.81,374.60 452.45,374.60 453.09,374.60 453.72,374.60 454.36,374.60 455.00,374.60 455.64,374.60 456.28,374.60 456.92,374.60 457.56,374.60 458.19,374.60 458.83,374.60 459.47,374.60 460.11,374.60 460.75,374.60 461.39,374.60 462.03,374.60 462.66,374.60 463.30,374.60 463.94,374.60 464.58,374.60 465.22,374.60 465.86,374.60 466.50,374.60 467.13,374.60 467.77,374.60 468.41,374.60 469.05,374.60"/>
<polyline stroke="#0000ff" points="85.90,273.20 86.54,273.20 87.18,273.20 87.82,273.20 88.45,273.20 89.09,273.20 89.73,273.20 90.37,273.20 91.01,273.20 91.65,273.20 92.29,273.20 92.92,273.20 93.56,273.20 94.20,273.20 94.84,273.20 95.48,273.20 96.12,273.20 96.76,273.20 97.39,273.20 98.03,273.20 98.67,273.20 99.31,273.20 99.95,273.20 100.59,273.20 101.23,273.20 101.86,273.20 102.50,273.20 103.14,273.20 103.78,273.20 104.42,273.20 105.06,273.20 105.70,273.20 106.33,273.20 106.97,273.20 107.61,273.20 108.25,273.20 108.89,273.20 109.53,273.20 110.17,273.20 110.80,273.20 111.44,273.20 112.08,273.20 112.72,273.20 113.36,273.20 114.00,273.20 114.64,273.20 115.27,273.20 115.91,273.20 116.55,273.20 117.19,273.20 117.83,273.20 118.47,273.20 119.11,273.20 119.74,273.20 120.38,273.20 121.02,273.20 121.66,273.20 122.30,273.20 122.94,273.20 123.58,273.20 124.22,273.20 124.85,273.20 125.49,273.20 126.13,273.20 126.77,273.20 127.41,273.20 128.05,273.20 128.69,273.20 129.32,273.20 129.96,273.20 130.60,273.20 131.24,273.20 131.88,273.20 132.52,273.20 133.16,273.20 133.79,273.20 134.43,273.20 135.07,273.20 135.71,273.20 136.35,273.20 136.99,273.20 137.63,273.20 138.26,273.20 138.90,273.20 139.54,273.20 140.18,273.20 140.82,273.20 141.46,273.20 142.10,273.20 142.73,273.20 143.37,273.20 144.01,273.20 144.65,273.20 145.29,273.20 145.93,273.20 146.57,273.20 147.20,273.20 147.84,273.20 148.48,273.20 149.12,273.20 149.76,273.21 150.40,273.21 151.04,273.21 151.67,273.21 152.31,273.21 152.95,273.21 153.59,273.21 154.23,273.21 154.87,273.21 155.51,273.21 156.14,273.21 156.78,273.21 157.42,273.21 158.06,273.21 158.70,273.21 159.34,273.21 159.98,273.21 160.61,273.22 161.25,273.22 161.89,273.22 162.53,273.22 163.17,273.22 163.81,273.22 164.45,273.22 165.08,273.22 165.72,273.22 166.36,273.22 167.00,273.23 167.64,273.23 168.28,273.23 168.92,273.23 169.55,273.23 170.19,273.23 170.83,273.24 171.47,273.24 172.11,273.24 172.75,273.24 173.39,273.24 174.02,273.25 174.66,273.25 175.30,273.25 175.94,273.25 176.58,273.26 177.22,273.26 177.86,273.26 178.49,273.26 179.13,273.27 179.77,273.27 180.41,273.27 181.05,273.28 181.69,273.28 182.33,273.29 182.96,273.29 183.60,273.30 184.24,273.30 184.88,273.30 185.52,273.31 186.16,273.32 186.80,273.32 187.43,273.33 188.07,273.33 188.71,273.34 189.35,273.35 189.99,273.35 190.63,273.36 191.27,273.37 191.90,273.38 192.54,273.39 193.18,273.40 193.82,273.41 194.46,273.42 195.10,273.43 195.74,273.44 196.37,273.45 197.01,273.46 197.65,273.47 198.29,273.49 198.93,273.50 199.57,273.51 200.21,273.53 200.84,273.55 201.48,273.56 202.12,273.58 202.76,273.60 203.40,273.62 204.04,273.64 204.68,273.66 205.32,273.68 205.95,273.70 206.59,273.73 207.23,273.75 207.87,273.78 208.51,273.81 209.15,273.84 209.79,273.87 210.42,273.90 211.06,273.94 211.70,273.97 212.34,274.01 212.98,274.05 213.62,274.09 214.26,274.13 214.89,274.17 215.53,274.22 216.17,274.27 216.81,274.32 217.45,274.38 218.09,274.43 218.73,274.49 219.36,274.55 220.00,274.62 220.64,274.69 221.28,274.76 221.92,274.83 222.56,274.91 223.20,274.99 223.83,275.08 224.47,275.16 225.11,275.26 225.75,275.36 226.39,275.46 227.03,275.57 227.67,275.68 228.30,275.80 228.94,275.92 229.58,276.05 230.22,276.18 230.86,276.32 231.50,276.47 232.14,276.62 232.77,276.78 233.41,276.95 234.05,277.13 234.69,277.31 235.33,277.51 235.97,277.71 236.61,277.92 237.24,278.14 237.88,278.37 238.52,278.61 239.16,278.86 239.80,279.12 240.44,279.39 241.08,279.68 241.71,279.97 242.35,280.29 242.99,280.61 243.63,280.95 244.27,281.30 244.91,281.67 245.55,282.05 246.18,282.45 246.82,282.87 247.46,283.30 248.10,283.75 248.74,284.22 249.38,284.71 250.02,285.22 250.65,285.75 251.29,286.30 251.93,286.87 252.57,287.46 253.21,288.08 253.85,288.72 254.49,289.38 255.12,290.07 255.76,290.78 256.40,291.52 257.04,292.28 257.68,293.07 258.32,293.89 258.96,294.73 259.59,295.60 260.23,296.50 260.87,297.43 261.51,298.39 262.15,299.37 262.79,300.39 263.43,301.43 264.06,302.50 264.70,303.60 265.34,304.72 265.98,305.88 266.62,307.06 267.26,308.27 267.90,309.50 268.53,310.76 269.17,312.05 269.81,313.36 270.45,314.69 271.09,316.04 271.73,317.41 272.37,318.80 273.00,320.20 273.64,321.62 274.28,323.05 274.92,324.50 275.56,325.95 276.20,327.41 276.84,328.87 277.48,330.33 278.11,331.80 278.75,333.26 279.39,334.71 280.03,336.16 280.67,337.59 281.31,339.01 281.95,340.42 282.58,341.81 283.22,343.17 283.86,344.52 284.50,345.83 285.14,347.12 285.78,348.38 286.42,349.60 287.05,350.79 287.69,351.95 288.33,353.06 288.97,354.14 289.61,355.18 290.25,356.17 290.89,357.12 291.52,358.03 292.16,358.90 292.80,359.73 293.44,360.51 294.08,361.26 294.72,361.96 295.36,362.63 295.99,363.27 296.63,363.87 297.27,364.44 297.91,364.98 298.55,365.50 299.19,365.99 299.83,366.46 300.46,366.91 301.10,367.34 301.74,367.74 302.38,368.13 303.02,368.51 303.66,368.86 304.30,369.20 304.93,369.52 305.57,369.83 306.21,370.12 306.85,370.39 307.49,370.65 308.13,370.90 308.77,371.13 309.40,371.35 310.04,371.56 310.68,371.75 311.32,371.93 311.96,372.11 312.60,372.27 313.24,372.42 313.87,372.56 314.51,372.70 315.15,372.82 315.79,372.94 316.43,373.05 317.07,373.15 317.71,373.24 318.34,373.33 318.98,373.42 319.62,373.50 320.26,373.57 320.90,373.64 321.54,373.70 322.18,373.76 322.81,373.82 323.45,373.87 324.09,373.92 324.73,373.96 325.37,374.01 326.01,374.05 326.65,374.08 327.28,374.12 327.92,374.15 328.56,374.18 329.20,374.21 329.84,374.23 330.48,374.26 331.12,374.28 331.75,374.30 332.39,374.32 333.03,374.34 333.67,374.36 334.31,374.37 334.95,374.39 335.59,374.40 336.22,374.42 336.86,374.43 337.50,374.44 338.14,374.45 338.78,374.46 339.42,374.47 340.06,374.48 340.69,374.49 341.33,374.49 341.97,374.50 342.61,374.51 343.25,374.51 343.89,374.52 344.53,374.53 345.16,374.53 345.80,374.53 346.44,374.54 347.08,374.54 347.72,374.55 348.36,374.55 349.00,374.55 349.63,374.56 350.27,374.56 350.91,374.56 351.55,374.56 352.19,374.57 352.83,374.57 353.47,374.57 354.11,374.57 354.74,374.58 355.38,374.58 356.02,374.58 356.66,374.58 357.30,374.58 357.94,374.58 358.58,374.58 359.21,374.58 359.85,374.59 360.49,374.59 361.13,374.59 361.77,374.59 362.41,374.59 363.05,374.59 363.68,374.59 364.32,374.59 364.96,374.59 365.60,374.59 366.24,374.59 366.88,374.59 367.52,374.59 368.15,374.59 368.79,374.59 369.43,374.59 370.07,374.60 370.71,374.60 371.35,374.60 371.99,374.60 372.62,374.60 373.26,374.60 373.90,374.60 374.54,374.60 375.18,374.60 375.82,374.60 376.46,374.60 377.09,374.60 377.73,374.60 378.37,374.60 379.01,374.60 379.65,374.60 380.29,374.60 380.93,374.60 381.56,374.60 382.20,374.60 382.84,374.60 383.48,374.60 384.12,374.60 384.76,374.60 385.40,374.60 386.03,374.60 386.67,374.60 387.31,374.60 387.95,374.60 388.59,374.60 389.23,374.60 389.87,374.60 390.50,374.60 391.14,374.60 391.78,374.60 392.42,374.60 393.06,374.60 393.70,374.60 394.34,374.60 394.97,374.60 395.61,374.60 396.25,374.60 396.89,374.60 397.53,374.60 398.17,374.60 398.81,374.60 399.44,374.60 400.08,374.60 400.72,374.60 401.36,374.60 402.00,374.60 402.64,374.60 403.28,374.60 403.91,374.60 404.55,374.60 405.19,374.60 405.83,374.60 406.47,374.60 407.11,374.60 407.75,374.60 408.38,374.60 409.02,374.60 409.66,374.60 410.30,374.60 410.94,374.60 411.58,374.60 412.22,374.60 412.85,374.60 413.49,374.60 414.13,374.60 414.77,374.60 415.41,374.60 416.05,374.60 416.69,374.60 417.32,374.60 417.96,374.60 418.60,374.60 419.24,374.60 419.88,374.60 420.52,374.60 421.16,374.60 421.79,374.60 422.43,374.60 423.07,374.60 423.71,374.60 424.35,374.60 424.99,374.60 425.63,374.60 426.26,374.60 426.90,374.60 427.54,374.60 428.18,374.60 428.82,374.60 429.46,374.60 430.10,374.60 430.74,374.60 431.37,374.60 432.01,374.60 432.65,374.60 433.29,374.60 433.93,374.60 434.57,374.60 435.21,374.60 435.84,374.60 436.48,374.60 437.12,374.60 437.76,374.60 438.40,374.60 439.04,374.60 439.68,374.60 440.31,374.60 440.95,374.60 441.59,374.60 442.23,374.60 442.87,374.60 443.51,374.60 444.15,374.60 444.78,374.60 445.42,374.60 446.06,374.60 446.70,374.60 447.34,374.60 447.98,374.60 448.62,374.60 449.25,374.60 449.89,374.60 450.53,374.60 451.17,374.60 451.81,374.60 452.45,374.60 453.09,374.60 453.72,374.60 454.36,374.60 455.00,374.60 455.64,374.60 456.28,374.60 456.92,374.60 457.56,374.60 458.19,374.60 458.83,374.60 459.47,374.60 460.11,374.60 460.75,374.60 461.39,374.60 462.03,374.60 462.66,374.60 463.30,374.60 463.94,374.60 464.58,374.60 465.22,374.60 465.86,374.60 466.50,374.60 467.13,374.60 467.77,374.60 468.41,374.60 469.05,374.60"/>
</g>
<line x1="85.9" y1="374.6" x2="469.05" y2="374.6" stroke="#000" stroke-opacity="0.9" stroke-width="1"/>
<rect x="85.9" y="9.55" width="383.15" height="383.2" fill="none" stroke="#222" stroke-width="1.45"/>
<path d="M85.90,392.75v-6.0M85.90,9.55v6.0M105.12,392.75v-2.9M105.12,9.55v2.9M116.37,392.75v-2.9M116.37,9.55v2.9M124.35,392.75v-2.9M124.35,9.55v2.9M130.54,392.75v-2.9M130.54,9.55v2.9M135.59,392.75v-2.9M135.59,9.55v2.9M139.87,392.75v-2.9M139.87,9.55v2.9M143.57,392.75v-2.9M143.57,9.55v2.9M146.84,392.75v-2.9M146.84,9.55v2.9M149.76,392.75v-6.0M149.76,9.55v6.0M168.98,392.75v-2.9M168.98,9.55v2.9M180.23,392.75v-2.9M180.23,9.55v2.9M188.20,392.75v-2.9M188.20,9.55v2.9M194.39,392.75v-2.9M194.39,9.55v2.9M199.45,392.75v-2.9M199.45,9.55v2.9M203.72,392.75v-2.9M203.72,9.55v2.9M207.43,392.75v-2.9M207.43,9.55v2.9M210.69,392.75v-2.9M210.69,9.55v2.9M213.62,392.75v-6.0M213.62,9.55v6.0M232.84,392.75v-2.9M232.84,9.55v2.9M244.08,392.75v-2.9M244.08,9.55v2.9M252.06,392.75v-2.9M252.06,9.55v2.9M258.25,392.75v-2.9M258.25,9.55v2.9M263.31,392.75v-2.9M263.31,9.55v2.9M267.58,392.75v-2.9M267.58,9.55v2.9M271.29,392.75v-2.9M271.29,9.55v2.9M274.55,392.75v-2.9M274.55,9.55v2.9M277.48,392.75v-6.0M277.48,9.55v6.0M296.70,392.75v-2.9M296.70,9.55v2.9M307.94,392.75v-2.9M307.94,9.55v2.9M315.92,392.75v-2.9M315.92,9.55v2.9M322.11,392.75v-2.9M322.11,9.55v2.9M327.17,392.75v-2.9M327.17,9.55v2.9M331.44,392.75v-2.9M331.44,9.55v2.9M335.14,392.75v-2.9M335.14,9.55v2.9M338.41,392.75v-2.9M338.41,9.55v2.9M341.33,392.75v-6.0M341.33,9.55v6.0M360.56,392.75v-2.9M360.56,9.55v2.9M371.80,392.75v-2.9M371.80,9.55v2.9M379.78,392.75v-2.9M379.78,9.55v2.9M385.97,392.75v-2.9M385.97,9.55v2.9M391.02,392.75v-2.9M391.02,9.55v2.9M395.30,392.75v-2.9M395.30,9.55v2.9M399.00,392.75v-2.9M399.00,9.55v2.9M402.27,392.75v-2.9M402.27,9.55v2.9M405.19,392.75v-6.0M405.19,9.55v6.0M424.41,392.75v-2.9M424.41,9.55v2.9M435.66,392.75v-2.9M435.66,9.55v2.9M443.64,392.75v-2.9M443.64,9.55v2.9M449.83,392.75v-2.9M449.83,9.55v2.9M454.88,392.75v-2.9M454.88,9.55v2.9M459.16,392.75v-2.9M459.16,9.55v2.9M462.86,392.75v-2.9M462.86,9.55v2.9M466.13,392.75v-2.9M466.13,9.55v2.9M469.05,392.75v-6.0M469.05,9.55v6.0M85.9,9.55h6.0M469.05,9.55h-6.0M85.9,18.68h2.9M469.05,18.68h-2.9M85.9,27.80h2.9M469.05,27.80h-2.9M85.9,36.93h2.9M469.05,36.93h-2.9M85.9,46.06h2.9M469.05,46.06h-2.9M85.9,55.18h6.0M469.05,55.18h-6.0M85.9,64.31h2.9M469.05,64.31h-2.9M85.9,73.43h2.9M469.05,73.43h-2.9M85.9,82.56h2.9M469.05,82.56h-2.9M85.9,91.69h2.9M469.05,91.69h-2.9M85.9,100.81h6.0M469.05,100.81h-6.0M85.9,109.94h2.9M469.05,109.94h-2.9M85.9,119.06h2.9M469.05,119.06h-2.9M85.9,128.19h2.9M469.05,128.19h-2.9M85.9,137.32h2.9M469.05,137.32h-2.9M85.9,146.44h6.0M469.05,146.44h-6.0M85.9,155.57h2.9M469.05,155.57h-2.9M85.9,164.70h2.9M469.05,164.70h-2.9M85.9,173.82h2.9M469.05,173.82h-2.9M85.9,182.95h2.9M469.05,182.95h-2.9M85.9,192.08h6.0M469.05,192.08h-6.0M85.9,201.20h2.9M469.05,201.20h-2.9M85.9,210.33h2.9M469.05,210.33h-2.9M85.9,219.45h2.9M469.05,219.45h-2.9M85.9,228.58h2.9M469.05,228.58h-2.9M85.9,237.71h6.0M469.05,237.71h-6.0M85.9,246.83h2.9M469.05,246.83h-2.9M85.9,255.96h2.9M469.05,255.96h-2.9M85.9,265.09h2.9M469.05,265.09h-2.9M85.9,274.21h2.9M469.05,274.21h-2.9M85.9,283.34h6.0M469.05,283.34h-6.0M85.9,292.46h2.9M469.05,292.46h-2.9M85.9,301.59h2.9M469.05,301.59h-2.9M85.9,310.72h2.9M469.05,310.72h-2.9M85.9,319.84h2.9M469.05,319.84h-2.9M85.9,328.97h6.0M469.05,328.97h-6.0M85.9,338.10h2.9M469.05,338.10h-2.9M85.9,347.22h2.9M469.05,347.22h-2.9M85.9,356.35h2.9M469.05,356.35h-2.9M85.9,365.47h2.9M469.05,365.47h-2.9M85.9,374.60h6.0M469.05,374.60h-6.0M85.9,383.73h2.9M469.05,383.73h-2.9" stroke="#2a2a2a" stroke-width="0.9" fill="none"/>
<text x="76" y="15.45" font-size="16" text-anchor="end">-0.60</text>
<text x="76" y="61.08" font-size="16" text-anchor="end">-0.65</text>
<text x="76" y="106.71" font-size="16" text-anchor="end">-0.70</text>
<text x="76" y="152.34" font-size="16" text-anchor="end">-0.75</text>
<text x="76" y="197.98" font-size="16" text-anchor="end">-0.80</text>
<text x="76" y="243.61" font-size="16" text-anchor="end">-0.85</text>
<text x="76" y="289.24" font-size="16" text-anchor="end">-0.90</text>
<text x="76" y="334.87" font-size="16" text-anchor="end">-0.95</text>
<text x="76" y="380.50" font-size="16" text-anchor="end">-1.00</text>
<text x="72.28" y="416.8" font-size="16">10<tspan dy="-6.8" font-size="13.5">-3</tspan></text>
<text x="136.13" y="416.8" font-size="16">10<tspan dy="-6.8" font-size="13.5">-2</tspan></text>
<text x="199.99" y="416.8" font-size="16">10<tspan dy="-6.8" font-size="13.5">-1</tspan></text>
<text x="266.10" y="416.8" font-size="16">10<tspan dy="-6.8" font-size="13.5">0</tspan></text>
<text x="329.96" y="416.8" font-size="16">10<tspan dy="-6.8" font-size="13.5">1</tspan></text>
<text x="393.82" y="416.8" font-size="16">10<tspan dy="-6.8" font-size="13.5">2</tspan></text>
<text x="457.67" y="416.8" font-size="16">10<tspan dy="-6.8" font-size="13.5">3</tspan></text>
<text x="276.28" y="440.7" font-size="20" word-spacing="0.6" text-anchor="middle">z + 1</text>
<text transform="translate(14.2,200.7) rotate(-90)" font-size="19" text-anchor="middle" x="0" y="0">w<tspan dy="6.2" font-size="17">DE</tspan></text>
<rect x="331.5" y="15.4" width="127.5" height="121.79999999999998" fill="#fff" stroke="#000" stroke-width="1.2"/>
<line x1="341" y1="25.30" x2="371.5" y2="25.30" stroke="#ff0000" stroke-width="1.1"/>
<text x="382" y="30.70" font-size="16"><tspan dx="-0.8">β =</tspan><tspan dx="0.8"> 0.00</tspan></text>
<line x1="341" y1="45.56" x2="371.5" y2="45.56" stroke="#ffa500" stroke-width="1.1"/>
<text x="382" y="50.96" font-size="16"><tspan dx="-0.8">β =</tspan><tspan dx="0.8"> 0.25</tspan></text>
<line x1="341" y1="65.82" x2="371.5" y2="65.82" stroke="#33a033" stroke-width="1.1"/>
<text x="382" y="71.22" font-size="16"><tspan dx="-0.8">β =</tspan><tspan dx="0.8"> 0.50</tspan></text>
<line x1="341" y1="86.08" x2="371.5" y2="86.08" stroke="#00ced1" stroke-width="1.1"/>
<text x="382" y="91.48" font-size="16"><tspan dx="-0.8">β =</tspan><tspan dx="0.8"> 0.75</tspan></text>
<line x1="341" y1="106.34" x2="371.5" y2="106.34" stroke="#0000ff" stroke-width="1.1"/>
<text x="382" y="111.74" font-size="16"><tspan dx="-0.8">β =</tspan><tspan dx="0.8"> 1.00</tspan></text>
<line x1="341" y1="126.60" x2="371.5" y2="126.60" stroke="#303030" stroke-width="1.1"/>
<text x="382" y="132.00" font-size="16"><tspan dx="-1.2">Λ-CDM</tspan></text>
</svg></body></html>
